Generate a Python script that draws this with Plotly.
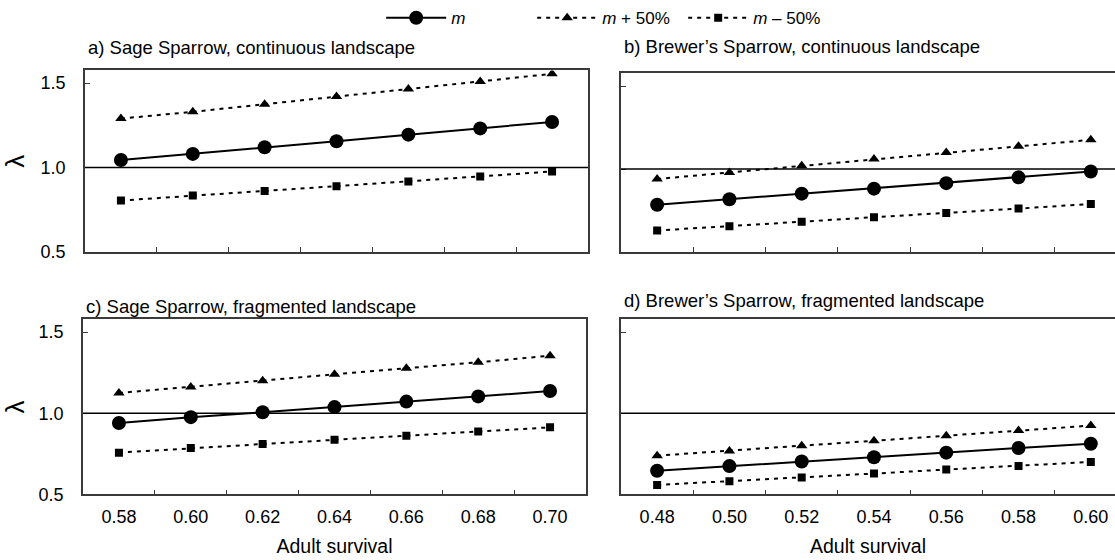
import plotly.graph_objects as go

# ---------------- data ----------------
sage_survival = ["0.58", "0.60", "0.62", "0.64", "0.66", "0.68", "0.70"]
brewer_survival = ["0.48", "0.50", "0.52", "0.54", "0.56", "0.58", "0.60"]

a_m = [1.045, 1.081, 1.120, 1.156, 1.195, 1.232, 1.270]
a_plus = [1.29, 1.33, 1.375, 1.42, 1.465, 1.51, 1.555]
a_minus = [0.805, 0.835, 0.862, 0.890, 0.918, 0.948, 0.977]

b_m = [0.785, 0.818, 0.852, 0.882, 0.915, 0.950, 0.985]
b_plus = [0.940, 0.980, 1.020, 1.060, 1.100, 1.138, 1.176]
b_minus = [0.630, 0.655, 0.683, 0.710, 0.735, 0.762, 0.790]

c_m = [0.940, 0.976, 1.006, 1.038, 1.072, 1.104, 1.137]
c_plus = [1.125, 1.162, 1.200, 1.240, 1.278, 1.314, 1.355]
c_minus = [0.757, 0.785, 0.810, 0.836, 0.862, 0.888, 0.913]

d_m = [0.645, 0.674, 0.702, 0.729, 0.757, 0.786, 0.812]
d_plus = [0.738, 0.767, 0.800, 0.830, 0.862, 0.894, 0.924]
d_minus = [0.558, 0.580, 0.604, 0.628, 0.653, 0.675, 0.700]

panel_titles = ["a) Sage Sparrow, continuous landscape",
                "b) Brewer\u2019s Sparrow, continuous landscape",
                "c) Sage Sparrow, fragmented landscape",
                "d) Brewer\u2019s Sparrow, fragmented landscape"]
series_names = ["<i>m</i>", "<i>m</i> + 50%", "<i>m</i> \u2013 50%"]
y_ticks = [0.5, 1.0, 1.5]
y_ticklabels = ["0.5", "1.0", "1.5"]

# ---------------- layout geometry ----------------
W, H = 1115, 560
FONT = "Liberation Sans, Arial, sans-serif"

def px_x(v):
    return v / W

def px_y(v):
    return 1 - v / H

panels = [
    ("", sage_survival, a_m, a_plus, a_minus, (85, 588, 69, 255), 46, True, False, True),
    ("2", brewer_survival, b_m, b_plus, b_minus, (621, 1115, 72, 255), 45, False, False, False),
    ("3", sage_survival, c_m, c_plus, c_minus, (83, 586, 324, 503), 311, True, True, True),
    ("4", brewer_survival, d_m, d_plus, d_minus, (621, 1115, 324, 503), 305, False, True, False),
]

fig = go.Figure()
line_col = "#3a3a3a"

for i, (k, cats, m, plus, minus, box, ty, ylab, xlab, full) in enumerate(panels):
    xa, ya = "x" + k, "y" + k
    show = (i == 0)
    fig.add_trace(go.Scatter(x=cats, y=plus, mode="lines+markers", xaxis=xa, yaxis=ya,
                             name=series_names[1], legendrank=2, showlegend=show,
                             line=dict(color="black", width=2, dash="4px,5px"),
                             marker=dict(symbol="triangle-up", size=10, color="black")))
    fig.add_trace(go.Scatter(x=cats, y=minus, mode="lines+markers", xaxis=xa, yaxis=ya,
                             name=series_names[2], legendrank=3, showlegend=show,
                             line=dict(color="black", width=2, dash="4px,5px"),
                             marker=dict(symbol="square", size=8, color="black")))
    fig.add_trace(go.Scatter(x=cats, y=m, mode="lines+markers", xaxis=xa, yaxis=ya,
                             name=series_names[0], legendrank=1, showlegend=show,
                             line=dict(color="black", width=2),
                             marker=dict(symbol="circle", size=14, color="black")))

    l, r, t, b = box
    xr = [-0.5, 6.5] if full else [-0.5, 6.5 - (1127 - 1115) / 72.5]
    span_px = b - t
    ytop = 0.5 + 1.0 * span_px / (span_px - 13)
    fig.update_layout(**{
        ("xaxis" + k): dict(
            domain=[px_x(l), px_x(r)], anchor=ya, type="category",
            categoryorder="array", categoryarray=cats, range=xr,
            tickson="boundaries", ticks="inside", ticklen=5, tickcolor=line_col,
            showticklabels=xlab, showline=True, linecolor=line_col, linewidth=1.5,
            mirror=True, showgrid=False, zeroline=False, ticklabelstandoff=5,
            tickfont=dict(size=18, color="black", family=FONT),
            title=dict(text="Adult survival" if xlab else "", font=dict(size=19.5, color="black", family=FONT), standoff=14),
        ),
        ("yaxis" + k): dict(
            domain=[px_y(b), px_y(t)], anchor=xa, range=[0.5, ytop],
            tickvals=y_ticks, ticktext=y_ticklabels, ticks="inside", ticklen=5,
            tickcolor=line_col, showticklabels=ylab, showline=True, linecolor=line_col,
            linewidth=1.5, mirror=full, showgrid=False, zeroline=False, ticklabelstandoff=14,
            tickfont=dict(size=18, color="black", family=FONT),
            title=dict(text="\u03bb" if ylab else "", font=dict(size=26, color="black", family=FONT), standoff=12),
        ),
    })
    fig.add_shape(type="line", xref=xa + " domain", yref=ya, x0=0, x1=1, y0=1.0, y1=1.0,
                  line=dict(color="black", width=1.5))
    fig.add_annotation(text=panel_titles[i], xref="paper", yref="paper",
                       x=px_x(l + 1), y=px_y(ty), xanchor="left", yanchor="middle",
                       showarrow=False, font=dict(size=18.5, color="black", family=FONT))

fig.update_layout(
    width=W, height=H, margin=dict(l=0, r=0, t=0, b=0),
    paper_bgcolor="white", plot_bgcolor="white",
    font=dict(family=FONT, color="black"),
    legend=dict(orientation="h", x=0.545, xanchor="center", y=1.005, yanchor="top",
                font=dict(size=17, family=FONT, color="black"),
                itemwidth=60, entrywidth=76, entrywidthmode="pixels",
                traceorder="normal", bgcolor="rgba(0,0,0,0)"),
)

fig.write_html("out.html")
